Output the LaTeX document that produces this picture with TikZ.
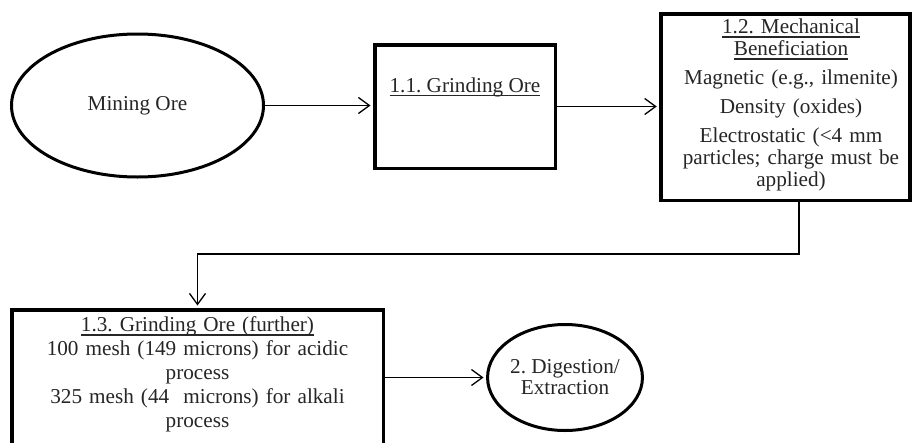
\documentclass[tikz,border=0pt]{standalone}
\usepackage{fontspec}
\setmainfont{Liberation Serif}
\usetikzlibrary{shapes.geometric,arrows.meta,calc}
\frenchspacing
\newsavebox\ulbox
\newcommand\myul[1]{\leavevmode\sbox\ulbox{#1}\rlap{\rule[-4pt]{\wd\ulbox}{1.2pt}}\usebox\ulbox}
\begin{document}
\begin{tikzpicture}[x=1pt,y=-1pt,
  every node/.style={font=\fontsize{21.2}{22}\selectfont, text=black!85},
  boxnode/.style={draw, rectangle, line width=3.5pt, inner sep=0pt},
  ovalnode/.style={draw, ellipse, line width=3pt, inner sep=0pt},
  txt/.style={inner sep=0pt, align=center},
  conn/.style={line width=1.3pt, -{Straight Barb[length=11pt,width=16pt]}, shorten >=2.5pt}
]
\useasboundingbox (0,0) rectangle (913,442);
\fill[white] (0,0) rectangle (913,442);

% nodes
\node[ovalnode, minimum width=252pt, minimum height=143pt] (mine) at (137.5,105.5) {Mining Ore};
\node[boxnode, minimum width=180.5pt, minimum height=123.5pt] (g11) at (465,106.5) {};
\node[txt, anchor=base] (t11) at (465,92) {\myul{1.1. Grinding Ore}};

\node[boxnode, minimum width=249pt, minimum height=186.5pt] (g12) at (785.5,107) {};
\node[txt, anchor=north, text width=246pt, font=\fontsize{21.2}{22}\selectfont] (t12) at (791,18.6)
  {\myul{1.2. Mechanical}\\ \myul{Beneficiation}\\[7pt]
   Magnetic (e.g., ilmenite)\\[7pt]
   Density (oxides)\\[7pt]
   Electrostatic (<4 mm\\ particles; charge must be\\ applied)};

\node[boxnode, minimum width=371.5pt, minimum height=148.5pt] (g13) at (197.5,384) {};
\node[txt, anchor=north, text width=365pt, font=\fontsize{21.2}{24}\selectfont] (t13) at (197.5,316.4)
  {\myul{1.3. Grinding Ore (further)}\\
   100 mesh (149 microns) for acidic\\ process\\
   325 mesh (44\ \ microns) for alkali\\ process};

\node[ovalnode, minimum width=151pt, minimum height=106pt, align=center,
      font=\fontsize{21.2}{21}\selectfont] (dig) at (565,377.5) {2. Digestion/\\ Extraction};

% connectors
\coordinate (turn) at (799,254);
\draw[conn] (mine.east) -- (mine.east -| g11.west);
\draw[conn] (g11.east) -- (g11.east -| g12.west);
\draw[conn] (g12.south -| turn) -- (turn) -| (g13.north);
\draw[conn] (dig.west -| g13.east) -- (dig.west);
\end{tikzpicture}
\end{document}
